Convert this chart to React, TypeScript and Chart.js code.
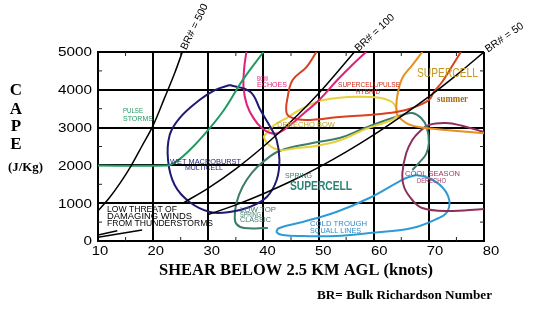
import React, { useEffect, useRef } from "react";
import { Chart, registerables } from "chart.js";
Chart.register(...registerables);

// ---- axis ticks ----
const xTickValues = [10, 20, 30, 40, 50, 60, 70, 80];
const yTickValues = [0, 1000, 2000, 3000, 4000, 5000];

// ---- Bulk Richardson number lines ----
const br500X = [10, 12, 14, 16, 18, 20, 22, 24, 25.3];
const br500Y = [800, 1130, 1530, 1990, 2520, 3060, 3760, 4480, 5000];
const br100LoX = [10, 13.5];
const br100LoY = [160, 270];
const br100X = [25.5, 30, 35, 40, 45, 50, 56.5];
const br100Y = [1010, 1400, 1910, 2500, 3160, 3900, 5000];
const br50LoX = [10, 18];
const br50LoY = [100, 290];
const br50X = [30, 35, 40, 45, 50, 55, 60, 65, 70, 75, 80];
const br50Y = [700, 955, 1250, 1580, 1950, 2360, 2810, 3300, 3820, 4390, 5000];

// ---- regime outlines ----
const pulseX = [10, 22.5, 24, 26.6, 30, 33, 36.2, 40];
const pulseY = [2000, 2000, 2080, 2400, 2940, 3500, 4250, 5000];

const wetX = [33.9, 37.6, 39.5, 41.3, 42.4, 42.9, 42.4, 40.6, 37.5, 33.9, 30.3, 26.6, 23.9, 22.7, 23.0, 24.8, 28.4, 31.2, 33.9];
const wetY = [4126, 3950, 3450, 3000, 2671, 2142, 1613, 1164, 899, 767, 767, 1032, 1481, 2142, 2804, 3253, 3729, 3994, 4126];

const bowX = [36.9, 36.5, 36.4, 37.0, 38.2, 39.6, 41.0, 42.6, 45.1, 47.4, 50.1, 53.4, 56.1, 58.6];
const bowY = [5000, 4550, 4050, 3600, 3250, 3000, 2870, 2850, 3095, 3386, 3729, 4258, 4655, 5000];

const hybridX = [49.6, 47.8, 45.3, 44.4, 44.2, 45.3, 47.8, 53.8, 59.2, 64.1, 67.0, 70.0, 70.9, 72.4, 74.0, 75.8];
const hybridY = [5000, 4602, 4258, 3809, 3386, 3253, 3200, 3280, 3333, 3412, 3520, 3729, 3941, 4206, 4576, 5000];

const supercellX = [68.8, 67.0, 65.2, 64.3, 64.1, 64.3, 65.9, 68.2, 73.1, 80];
const supercellY = [5000, 4655, 4311, 3862, 3518, 3333, 3121, 3015, 2936, 2850];

const derechoX = [40.0, 41.8, 44.2, 46.5, 50.1, 53.8, 57.0, 61.0, 63.3, 64.2, 64.1, 62.3, 58.5, 53.8, 48.9, 46.0, 42.9, 41.0, 40.0];
const derechoY = [2750, 3050, 3253, 3465, 3700, 3790, 3815, 3790, 3677, 3465, 3280, 3148, 2960, 2660, 2500, 2460, 2407, 2540, 2750];

const springX = [40.8, 36.5, 35.1, 34.8, 35.1, 36.2, 38.0, 40.0, 42.9, 48.9, 53.8, 57.9, 62.3, 65.2, 67.0, 68.6, 69.6, 70.0, 69.5, 68.3, 67.0];
const springY = [344, 344, 450, 635, 1005, 1428, 1820, 2100, 2380, 2592, 2724, 2960, 3200, 3333, 3386, 3253, 3015, 2600, 2300, 2080, 1878];

const coolX = [80, 76, 73.1, 70.0, 68.2, 67.0, 65.9, 65.2, 65.5, 67.0, 68.8, 73.1, 80];
const coolY = [2880, 3050, 3121, 3068, 2880, 2671, 2328, 1799, 1428, 1085, 873, 794, 846];

const troughX = [67.7, 70.0, 72.4, 73.7, 73.3, 71.8, 67.0, 59.2, 53.2, 47.1, 43.5, 42.4, 42.9, 47.1, 53.2, 59.2, 64.1, 65.9, 67.7];
const troughY = [1746, 1666, 1428, 1085, 767, 608, 344, 212, 132, 132, 159, 238, 344, 503, 767, 1137, 1534, 1666, 1746];

// ---- colours ----
const GREEN = "#1f9a62";
const NAVY = "#1e1a72";
const PINK = "#e0207a";
const RED = "#d8401e";
const ORANGE = "#e8901e";
const YELLOW = "#e8d038";
const TEAL = "#3d7d6c";
const MAROON = "#8e2f5b";
const BLUE = "#2e9bd6";

const SANS = "'Liberation Sans', Arial, sans-serif";
const SERIF = "'Liberation Serif', 'Times New Roman', serif";

// ---- annotations (data coordinates) ----
type Lbl = { t: string; x: number; y: number; c: string; f: string; a: "left" | "center"; w?: number };
const annotations: Lbl[] = [
  { t: "PULSE", x: 14.53, y: 3426, c: GREEN, f: `7px ${SANS}`, a: "left", w: 20 },
  { t: "STORMS", x: 14.53, y: 3227, c: GREEN, f: `7px ${SANS}`, a: "left", w: 30 },
  { t: "WET MACROBURST", x: 29.5, y: 2090, c: NAVY, f: `8px ${SANS}`, a: "center", w: 71 },
  { t: "MULTICELL", x: 29.22, y: 1918, c: NAVY, f: `7px ${SANS}`, a: "center", w: 38 },
  { t: "BOW", x: 38.84, y: 4272, c: PINK, f: `7px ${SANS}`, a: "left", w: 11 },
  { t: "ECHOES", x: 38.84, y: 4127, c: PINK, f: `7px ${SANS}`, a: "left", w: 30 },
  { t: "SUPERCELL/PULSE", x: 59.15, y: 4114, c: "#cc2a1a", f: `7px ${SANS}`, a: "center", w: 62 },
  { t: "HYBRID", x: 58.97, y: 3928, c: "#cc2a1a", f: `7px ${SANS}`, a: "center", w: 24 },
  { t: "DERECHO BOW", x: 47.72, y: 3055, c: "#b4a43c", f: `7px ${SANS}`, a: "center", w: 58 },
  { t: "SUPERCELL", x: 73.38, y: 4431, c: "#c8961e", f: `12.5px ${SANS}`, a: "center", w: 61 },
  { t: "summer", x: 74.29, y: 3743, c: "#a86a10", f: `bold 10px ${SERIF}`, a: "center", w: 31 },
  { t: "SPRING", x: 46.36, y: 1733, c: TEAL, f: `7.5px ${SANS}`, a: "center", w: 27 },
  { t: "SUPERCELL", x: 50.44, y: 1429, c: "#2a8272", f: `bold 12.5px ${SANS}`, a: "center", w: 62 },
  { t: "LOW TOP", x: 35.75, y: 820, c: TEAL, f: `7px ${SANS}`, a: "left", w: 36 },
  { t: "SPRING", x: 35.75, y: 675, c: TEAL, f: `6.5px ${SANS}`, a: "left", w: 21 },
  { t: "CLASSIC", x: 35.75, y: 542, c: TEAL, f: `7px ${SANS}`, a: "left", w: 31 },
  { t: "COLD TROUGH", x: 48.45, y: 450, c: "#2a8ac8", f: `8px ${SANS}`, a: "left", w: 57 },
  { t: "SQUALL LINES", x: 48.45, y: 278, c: "#2a8ac8", f: `8px ${SANS}`, a: "left", w: 51 },
  { t: "COOL SEASON", x: 70.66, y: 1772, c: "#9a3a60", f: `8px ${SANS}`, a: "center", w: 55 },
  { t: "DERECHO", x: 70.48, y: 1600, c: "#9a3a60", f: `7.5px ${SANS}`, a: "center", w: 29 },
  { t: "LOW THREAT OF", x: 11.63, y: 820, c: "#000", f: `8.5px ${SANS}`, a: "left", w: 70 },
  { t: "DAMAGING WINDS", x: 11.63, y: 635, c: "#000", f: `8.5px ${SANS}`, a: "left", w: 85 },
  { t: "FROM THUNDERSTORMS", x: 11.63, y: 450, c: "#000", f: `8.5px ${SANS}`, a: "left", w: 106 },
];

type BrLbl = { t: string; x: number; y: number; angle: number };
const brLabels: BrLbl[] = [
  { t: "BR# = 500", x: 25.3, y: 5000, angle: -64 },
  { t: "BR# = 100", x: 56.5, y: 5000, angle: -43 },
  { t: "BR# = 50", x: 80, y: 5000, angle: -35 },
];

function pts(xs: number[], ys: number[]) {
  return xs.map((x, i) => ({ x, y: ys[i] }));
}

function drawText(ctx: CanvasRenderingContext2D, text: string, x: number, y: number, font: string, color: string, align: "left" | "center" | "right", width?: number) {
  ctx.save();
  ctx.font = font;
  ctx.fillStyle = color;
  ctx.textBaseline = "middle";
  ctx.textAlign = "left";
  const m = ctx.measureText(text).width;
  const sx = width ? width / m : 1;
  const w = m * sx;
  let x0 = x;
  if (align === "center") x0 = x - w / 2;
  else if (align === "right") x0 = x - w;
  ctx.translate(x0, y);
  ctx.scale(sx, 1);
  ctx.fillText(text, 0, 0);
  ctx.restore();
}

const decorPlugin = {
  id: "decor",
  afterDatasetsDraw(chart: any) {
    const ctx: CanvasRenderingContext2D = chart.ctx;
    const xs = chart.scales.x;
    const ys = chart.scales.y;
    const area = chart.chartArea;
    // minor ticks
    ctx.save();
    ctx.strokeStyle = "#222";
    ctx.lineWidth = 1;
    for (let v = 15; v < 80; v += 10) {
      const px = xs.getPixelForValue(v);
      ctx.beginPath();
      ctx.moveTo(px, area.bottom); ctx.lineTo(px, area.bottom - 4);
      ctx.moveTo(px, area.top); ctx.lineTo(px, area.top + 4);
      ctx.stroke();
    }
    for (let v = 500; v < 5000; v += 1000) {
      const py = ys.getPixelForValue(v);
      ctx.beginPath();
      ctx.moveTo(area.left, py); ctx.lineTo(area.left + 4, py);
      ctx.moveTo(area.right, py); ctx.lineTo(area.right - 4, py);
      ctx.stroke();
    }
    ctx.restore();
    // annotations
    for (const a of annotations) {
      drawText(ctx, a.t, xs.getPixelForValue(a.x), ys.getPixelForValue(a.y), a.f, a.c, a.a, a.w);
    }
    // BR labels
    for (const b of brLabels) {
      const px = xs.getPixelForValue(b.x);
      const py = ys.getPixelForValue(b.y);
      ctx.save();
      ctx.translate(px, py);
      ctx.rotate((b.angle * Math.PI) / 180);
      ctx.font = `10.5px ${SANS}`;
      ctx.fillStyle = "#000";
      ctx.textBaseline = "middle";
      ctx.textAlign = "left";
      ctx.fillText(b.t, 3, 0);
      ctx.restore();
    }
  },
  afterDraw(chart: any) {
    const ctx: CanvasRenderingContext2D = chart.ctx;
    const xs = chart.scales.x;
    const ys = chart.scales.y;
    const area = chart.chartArea;
    // tick labels
    for (const v of yTickValues) {
      drawText(ctx, String(v), area.left - 6, ys.getPixelForValue(v) + 1, `12.5px ${SANS}`, "#000", "right", String(v).length * 8.5);
    }
    for (const v of xTickValues) {
      drawText(ctx, String(v), xs.getPixelForValue(v) + 2 + (v - 10) * 0.07, area.bottom + 11, `12.5px ${SANS}`, "#000", "center", 16.5);
    }
    // axis titles
    const letters = ["C", "A", "P", "E"];
    const ly = [91, 110, 127, 145];
    letters.forEach((l, i) => drawText(ctx, l, 16, ly[i], `bold 17px ${SERIF}`, "#000", "center"));
    drawText(ctx, "(J/Kg)", 25.5, 167.5, `bold 13px ${SERIF}`, "#000", "center", 35);
    drawText(ctx, "SHEAR BELOW 2.5 KM AGL (knots)", 296, 271, `bold 17px ${SERIF}`, "#000", "center", 274);
    drawText(ctx, "BR= Bulk Richardson Number", 404.5, 296, `bold 13px ${SERIF}`, "#000", "center", 175);
  },
};

function line(label: string, xs: number[], ys: number[], color: string, width = 2, tension = 0.4, mono = false) {
  return {
    label,
    data: pts(xs, ys),
    borderColor: color,
    backgroundColor: color,
    borderWidth: width,
    pointRadius: 0,
    fill: false,
    tension,
    cubicInterpolationMode: mono ? "monotone" : "default",
  };
}

export default function App() {
  const ref = useRef<HTMLCanvasElement>(null);
  useEffect(() => {
    document.body.style.margin = "0";
    const datasets = [
      line("BR500", br500X, br500Y, "#000", 1.5, 0.4, true),
      line("BR100lo", br100LoX, br100LoY, "#000", 1.5, 0),
      line("BR100", br100X, br100Y, "#000", 1.5, 0.4, true),
      line("BR50lo", br50LoX, br50LoY, "#000", 1.5, 0),
      line("BR50", br50X, br50Y, "#000", 1.5, 0.4, true),
      line("Pulse", pulseX, pulseY, GREEN),
      line("Wet macroburst", wetX, wetY, NAVY),
      line("Bow echoes", bowX, bowY, PINK),
      line("Hybrid", hybridX, hybridY, RED),
      line("Supercell", supercellX, supercellY, ORANGE),
      line("Derecho bow", derechoX, derechoY, YELLOW),
      line("Spring supercell", springX, springY, TEAL),
      line("Cool season derecho", coolX, coolY, MAROON),
      line("Cold trough", troughX, troughY, BLUE),
    ];
    const chart = new Chart(ref.current as HTMLCanvasElement, {
      type: "line",
      data: { datasets: datasets as any },
      options: {
        animation: false,
        responsive: false,
        devicePixelRatio: 1,
        layout: { padding: { top: 52, right: 56, left: 0, bottom: 0 } },
        plugins: { legend: { display: false }, tooltip: { enabled: false } },
        scales: {
          x: {
            type: "linear",
            min: 10,
            max: 80,
            ticks: { stepSize: 10, display: false },
            grid: { color: "#000", lineWidth: 2, drawTicks: false },
            border: { display: true, color: "#000", width: 2 },
            afterFit: (s: any) => { s.height = 76; },
          },
          y: {
            type: "linear",
            min: 0,
            max: 5000,
            ticks: { stepSize: 1000, display: false },
            grid: { color: "#000", lineWidth: 2, drawTicks: false },
            border: { display: true, color: "#000", width: 2 },
            afterFit: (s: any) => { s.width = 98; },
          },
        },
      } as any,
      plugins: [decorPlugin],
    });
    return () => chart.destroy();
  }, []);
  return (
    <div style={{ position: "absolute", left: 0, top: 0, width: 540, height: 317, background: "#fff" }}>
      <canvas ref={ref} width={540} height={317} style={{ width: 540, height: 317, display: "block" }} />
    </div>
  );
}
